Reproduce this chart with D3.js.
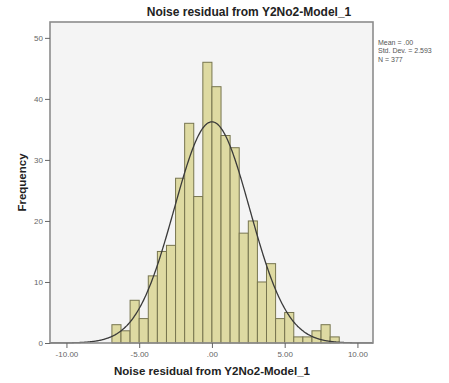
<!DOCTYPE html>
<html>
<head>
<meta charset="utf-8">
<script src="https://cdn.jsdelivr.net/npm/d3@7"></script>
<style>
  body { margin: 0; background: #ffffff; }
  svg { display: block; font-family: "Liberation Sans", Arial, sans-serif; }
</style>
</head>
<body>
<div id="chart"></div>
<script>
// ---- Data ----
const binLefts = [-6.875, -6.25, -5.625, -5.0, -4.375, -3.75, -3.125, -2.5, -1.875, -1.25,
                  -0.625, 0.0, 0.625, 1.25, 1.875, 2.5, 3.125, 3.75, 4.375, 5.0,
                  5.625, 6.25, 6.875, 7.5, 8.125];
const binWidth = 0.625;
const counts = [3, 2, 7, 4, 11, 15, 16, 27, 36, 24,
                46, 42, 34, 32, 18, 20, 10, 13, 4, 5,
                1, 1, 2, 3, 1];
const statMean = 0.0;
const statSD = 2.593;
const statN = 377;
const statLabels = ["Mean = .00", "Std. Dev. = 2.593", "N = 377"];
const xTicks = [-10, -5, 0, 5, 10];
const xTickLabels = ["-10.00", "-5.00", ".00", "5.00", "10.00"];
const yTicks = [0, 10, 20, 30, 40, 50];
const yTickLabels = ["0", "10", "20", "30", "40", "50"];
const titleText = "Noise residual from Y2No2-Model_1";
const xTitle = "Noise residual from Y2No2-Model_1";
const yTitle = "Frequency";

// ---- Layout ----
const W = 449, H = 383;
const plot = { left: 50, top: 22, right: 373, bottom: 343 };

const svg = d3.select("#chart").append("svg").attr("width", W).attr("height", H);

const x = d3.scaleLinear().domain([-11.13, 11.07]).range([plot.left, plot.right]);
const y = d3.scaleLinear().domain([0, 52.6]).range([plot.bottom, plot.top]);

// plot frame background
svg.append("rect")
  .attr("x", plot.left).attr("y", plot.top)
  .attr("width", plot.right - plot.left).attr("height", plot.bottom - plot.top)
  .attr("fill", "#f4f4f4");

// bars
svg.append("g").selectAll("rect").data(counts).join("rect")
  .attr("x", (d, i) => x(binLefts[i]))
  .attr("y", d => y(d))
  .attr("width", (d, i) => x(binLefts[i] + binWidth) - x(binLefts[i]))
  .attr("height", d => y(0) - y(d))
  .attr("fill", "#dedaa2")
  .attr("stroke", "#77754f")
  .attr("stroke-width", 1);

// normal curve
const curvePts = d3.range(-11.13, 11.07, 0.05);
const scaleFactor = statN * binWidth / (statSD * Math.sqrt(2 * Math.PI));
const line = d3.line()
  .x(d => x(d))
  .y(d => y(scaleFactor * Math.exp(-0.5 * Math.pow((d - statMean) / statSD, 2))))
  .curve(d3.curveBasis);
svg.append("path").datum(curvePts)
  .attr("d", line)
  .attr("fill", "none")
  .attr("stroke", "#3a3a3a")
  .attr("stroke-width", 1.3);

// frame border
svg.append("rect")
  .attr("x", plot.left).attr("y", plot.top)
  .attr("width", plot.right - plot.left).attr("height", plot.bottom - plot.top)
  .attr("fill", "none")
  .attr("stroke", "#8c8c8c")
  .attr("stroke-width", 1.6);

// axes
const xAxis = d3.axisBottom(x).tickValues(xTicks)
  .tickFormat((d, i) => xTickLabels[i]).tickSize(5).tickPadding(3);
const gx = svg.append("g").attr("transform", `translate(0,${plot.bottom})`).call(xAxis);
gx.select(".domain").remove();
gx.selectAll("line").attr("stroke", "#666");
gx.selectAll("text").attr("font-size", 8).attr("fill", "#666")
  .attr("font-family", "Liberation Sans, Arial, sans-serif");

const yAxis = d3.axisLeft(y).tickValues(yTicks)
  .tickFormat((d, i) => yTickLabels[i]).tickSize(5).tickPadding(2);
const gy = svg.append("g").attr("transform", `translate(${plot.left},0)`).call(yAxis);
gy.select(".domain").remove();
gy.selectAll("line").attr("stroke", "#666");
gy.selectAll("text").attr("font-size", 8).attr("fill", "#666")
  .attr("font-family", "Liberation Sans, Arial, sans-serif");

// title
svg.append("text")
  .attr("x", 249).attr("y", 16)
  .attr("text-anchor", "middle")
  .attr("font-size", 12).attr("font-weight", "bold").attr("fill", "#222")
  .text(titleText);

// x title
svg.append("text")
  .attr("x", 212).attr("y", 375)
  .attr("text-anchor", "middle")
  .attr("font-size", 11.5).attr("font-weight", "bold").attr("fill", "#222")
  .text(xTitle);

// y title
svg.append("text")
  .attr("transform", `translate(26,${(plot.top + plot.bottom) / 2}) rotate(-90)`)
  .attr("text-anchor", "middle")
  .attr("font-size", 11.5).attr("font-weight", "bold").attr("fill", "#222")
  .text(yTitle);

// stats box text
svg.append("g").selectAll("text").data(statLabels).join("text")
  .attr("x", 378)
  .attr("y", (d, i) => 45 + i * 8.3)
  .attr("font-size", 7).attr("fill", "#555")
  .text(d => d);
</script>
</body>
</html>
